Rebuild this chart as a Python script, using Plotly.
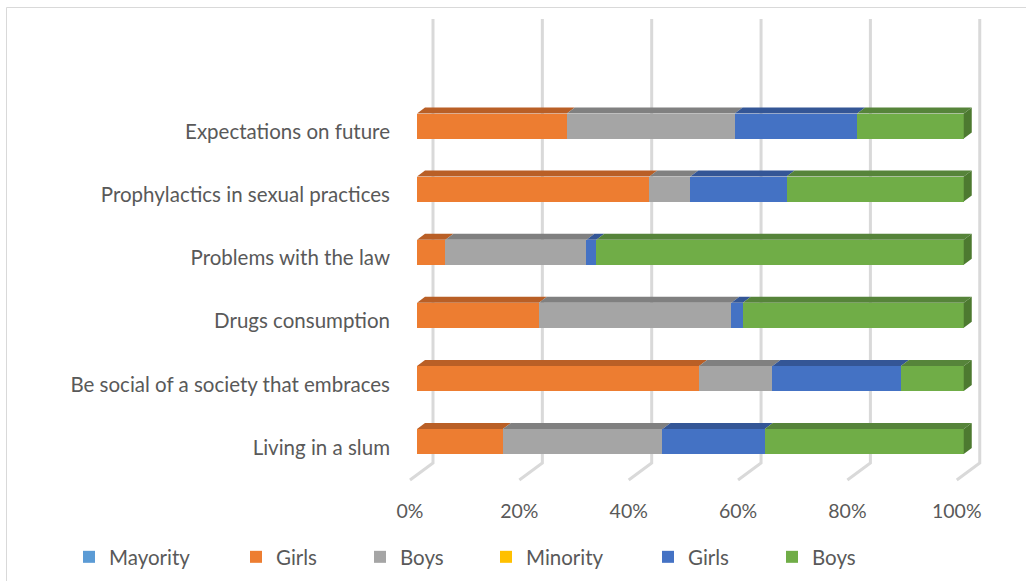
import plotly.graph_objects as go

# Categories listed bottom to top
categories = [
    "Living in a slum",
    "Be social of a society that embraces",
    "Drugs consumption",
    "Problems with the law",
    "Prophylactics in sexual practices",
    "Expectations on future",
]

# Share of answers (%) per group, same order as categories
mayority = [0, 0, 0, 0, 0, 0]
mayority_girls = [15.7, 51.6, 22.3, 5.2, 42.5, 27.4]
mayority_boys = [29.2, 13.4, 35.2, 25.8, 7.5, 30.7]
minority = [0, 0, 0, 0, 0, 0]
minority_girls = [18.7, 23.5, 2.1, 1.8, 17.6, 22.4]
minority_boys = [36.4, 11.5, 40.4, 67.2, 32.4, 19.5]

tick_values = [0, 20, 40, 60, 80, 100]
tick_labels = ["0%", "20%", "40%", "60%", "80%", "100%"]

series = [
    ("Mayority", mayority, "#5b9bd5", "#41719c"),
    ("Girls", mayority_girls, "#ed7d31", "#b95f26"),
    ("Boys", mayority_boys, "#a5a5a5", "#808080"),
    ("Minority", minority, "#ffc000", "#bf9000"),
    ("Girls", minority_girls, "#4472c4", "#345696"),
    ("Boys", minority_boys, "#70ad47", "#56843a"),
]
side_colour = "#4d7a30"

# ---- page geometry (pixels) ----
W, H = 1026, 581
ML, MR, MT, MB = 400, 36, 15, 96
X0_PX, PX_PER_PCT = 417.0, 109.35 / 20.0      # front face of the bars
ROW0_PX, ROW_STEP = 441.5, 63.1                # centre of the lowest bar, row pitch
BAR_H = 25.0                                   # bar thickness in px
DEPTH_DX, DEPTH_DY = 8.0, 6.0                  # bar extrusion
WALL_DX = 16.0                                 # back wall gridlines offset
FLOOR_DX = -7.0                                # front edge of the floor
GRID_TOP, GRID_BACK, GRID_FRONT = 19.0, 463.0, 480.0

plot_w = W - ML - MR
plot_h = H - MT - MB
x_min = (ML - X0_PX) / PX_PER_PCT
x_max = (W - MR - X0_PX) / PX_PER_PCT
y_max = (ROW0_PX - MT) / ROW_STEP
y_min = y_max - plot_h / ROW_STEP


def dx(px):
    return px / PX_PER_PCT


def dy(px):
    return px / ROW_STEP


def ypix(py):
    return y_max - (py - MT) / ROW_STEP


def paper_x(px):
    return (px - ML) / plot_w


def paper_y(py):
    return 1 - (py - MT) / plot_h


half = dy(BAR_H) / 2
rows = list(range(len(categories)))

fig = go.Figure()

# front faces
for name, vals, col, _ in series:
    fig.add_trace(go.Bar(
        y=rows, x=vals, orientation="h", name=name,
        marker=dict(color=col, line=dict(width=0)),
        width=dy(BAR_H), hoverinfo="x+name",
    ))

# top faces
base = [0.0] * len(rows)
for name, vals, col, top in series:
    xs, ys = [], []
    for i, v in enumerate(vals):
        if v <= 0:
            continue
        a, b = base[i], base[i] + v
        yt = i + half
        xs += [a, b, b + dx(DEPTH_DX), a + dx(DEPTH_DX), a, None]
        ys += [yt, yt, yt + dy(DEPTH_DY), yt + dy(DEPTH_DY), yt, None]
        base[i] = b
    if xs:
        fig.add_trace(go.Scatter(
            x=xs, y=ys, mode="lines", fill="toself", fillcolor=top,
            line=dict(width=0, color=top), showlegend=False, hoverinfo="skip",
        ))

# right-hand end faces
xs, ys = [], []
for i in rows:
    e = base[i]
    xs += [e, e + dx(DEPTH_DX), e + dx(DEPTH_DX), e, e, None]
    ys += [i - half, i - half + dy(DEPTH_DY), i + half + dy(DEPTH_DY), i + half, i - half, None]
fig.add_trace(go.Scatter(
    x=xs, y=ys, mode="lines", fill="toself", fillcolor=side_colour,
    line=dict(width=0, color=side_colour), showlegend=False, hoverinfo="skip",
))

# back-wall gridlines with their floor segments
shapes = []
for v in tick_values:
    xb = v + dx(WALL_DX)
    xf = v + dx(FLOOR_DX)
    shapes.append(dict(
        type="path", xref="x", yref="y", layer="below",
        path=f"M {xb},{ypix(GRID_TOP)} L {xb},{ypix(GRID_BACK)} L {xf},{ypix(GRID_FRONT)}",
        line=dict(color="#d9d9d9", width=3),
    ))

# chart area border
shapes.append(dict(
    type="rect", xref="paper", yref="paper",
    x0=paper_x(6.5), x1=paper_x(W + 20), y0=paper_y(H + 20), y1=paper_y(7.5),
    line=dict(color="#d9d9d9", width=1), layer="below",
))

font = dict(family="Lato", size=20.5, color="#595959")

# one legend per entry so each sits at its own position
legend_px = [87, 254, 378, 504, 666, 790]
legend_keys = ["legend", "legend2", "legend3", "legend4", "legend5", "legend6"]
legend_layout = {}
for k, (tr, lx) in enumerate(zip(fig.data[:6], legend_px)):
    tr.legend = legend_keys[k]
    legend_layout[legend_keys[k]] = dict(
        x=paper_x(lx - 18), y=paper_y(557), xanchor="left", yanchor="middle",
        orientation="h", font=font, bgcolor="rgba(0,0,0,0)",
    )

fig.update_layout(
    width=W, height=H,
    margin=dict(l=ML, r=MR, t=MT, b=MB, autoexpand=False),
    barmode="stack", bargap=0,
    plot_bgcolor="white", paper_bgcolor="white",
    font=font,
    shapes=shapes,
    xaxis=dict(
        range=[x_min, x_max], showgrid=False, zeroline=False, showline=False,
        tickvals=tick_values, ticktext=tick_labels, ticks="",
        tickfont=dict(size=19.5),
        ticklabelshift=-7, ticklabelstandoff=12, fixedrange=True,
    ),
    yaxis=dict(
        range=[y_min, y_max], showgrid=False, zeroline=False, showline=False,
        tickvals=rows, ticktext=categories, ticks="",
        ticklabelstandoff=9, ticklabelshift=6, fixedrange=True,
    ),
    **legend_layout,
)

fig.write_html("out.html")
